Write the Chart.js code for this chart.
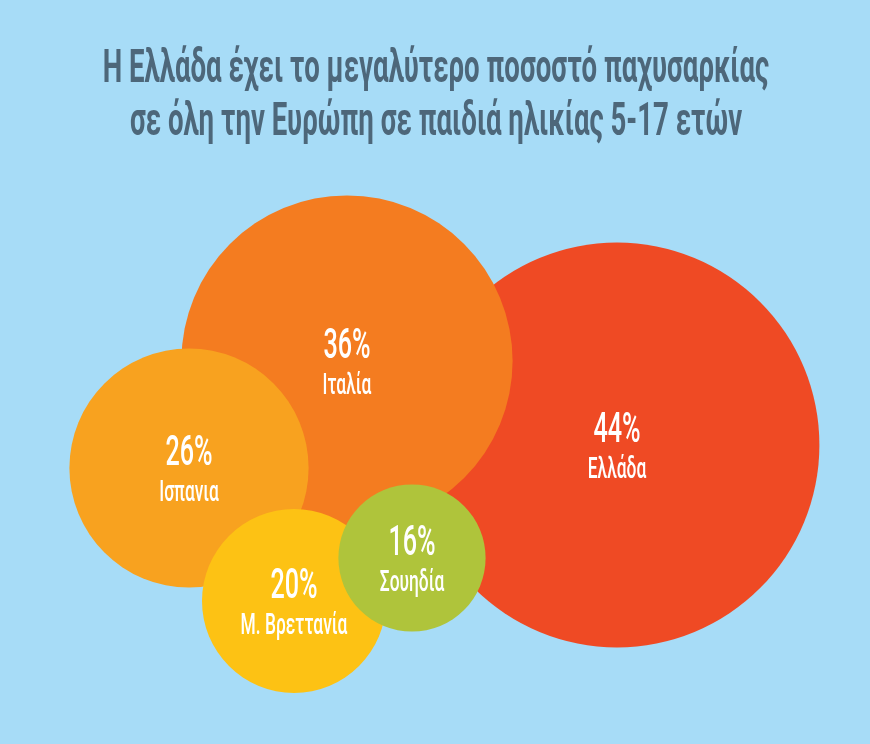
<!DOCTYPE html>
<html>
<head>
<meta charset="utf-8">
<script src="https://cdn.jsdelivr.net/npm/chart.js@4"></script>
<style>
  html, body { margin: 0; padding: 0; background: #a7dcf7; }
  #wrap { width: 870px; height: 744px; }
</style>
</head>
<body>
<div id="wrap"><canvas id="bubbles"></canvas></div>
<script>
// data
const countries = ["Ελλάδα", "Ιταλία", "Ισπανια", "Μ. Βρεττανία", "Σουηδία"];
const obesityPct = [44, 36, 26, 20, 16];
const titleLines = [
  "Η Ελλάδα έχει το μεγαλύτερο ποσοστό παχυσαρκίας",
  "σε όλη την Ευρώπη σε παιδιά ηλικίας 5-17 ετών"
];

// layout (where each bubble sits on the hidden 870 x 744 grid)
const layoutX = [617, 347, 189, 294, 412];
const layoutY = [445, 361, 468, 601, 558];
const colors = ["#ef4a24", "#f47c20", "#f8a21f", "#fdc214", "#afc43b"];
const PX_PER_PCT = 4.6;
const SQUEEZE = 0.6;

function squeezedText(ctx, text, x, y, font, color) {
  ctx.save();
  ctx.font = font;
  ctx.fillStyle = color;
  ctx.textAlign = "center";
  ctx.textBaseline = "alphabetic";
  ctx.translate(x, y);
  ctx.scale(SQUEEZE, 1);
  ctx.fillText(text, 0, 0);
  ctx.restore();
}

const labelsPlugin = {
  id: "bubbleLabels",
  afterDatasetsDraw(chart) {
    const ctx = chart.ctx;
    titleLines.forEach((line, i) => {
      squeezedText(ctx, line, 436, 82 + i * 53, "bold 46px Roboto", "#4d677a");
    });
    const meta = chart.getDatasetMeta(0);
    meta.data.forEach((pt, i) => {
      squeezedText(ctx, obesityPct[i] + "%", pt.x, pt.y - 3, "500 42px Roboto", "#ffffff");
      squeezedText(ctx, countries[i], pt.x, pt.y + 33, "500 29px Roboto", "#ffffff");
    });
  }
};

new Chart(document.getElementById("bubbles"), {
  type: "bubble",
  data: {
    labels: countries,
    datasets: [{
      data: obesityPct.map((v, i) => ({ x: layoutX[i], y: layoutY[i], r: v * PX_PER_PCT })),
      backgroundColor: colors,
      borderWidth: 0,
      hoverRadius: 0,
      hoverBorderWidth: 0,
      clip: false
    }]
  },
  options: {
    responsive: true,
    maintainAspectRatio: false,
    animation: false,
    events: [],
    layout: { padding: 0, autoPadding: false },
    plugins: {
      legend: { display: false },
      tooltip: { enabled: false },
      title: { display: false }
    },
    scales: {
      x: { type: "linear", min: 0, max: 870, display: false },
      y: { type: "linear", min: 0, max: 744, reverse: true, display: false }
    }
  },
  plugins: [labelsPlugin]
});
</script>
</body>
</html>
